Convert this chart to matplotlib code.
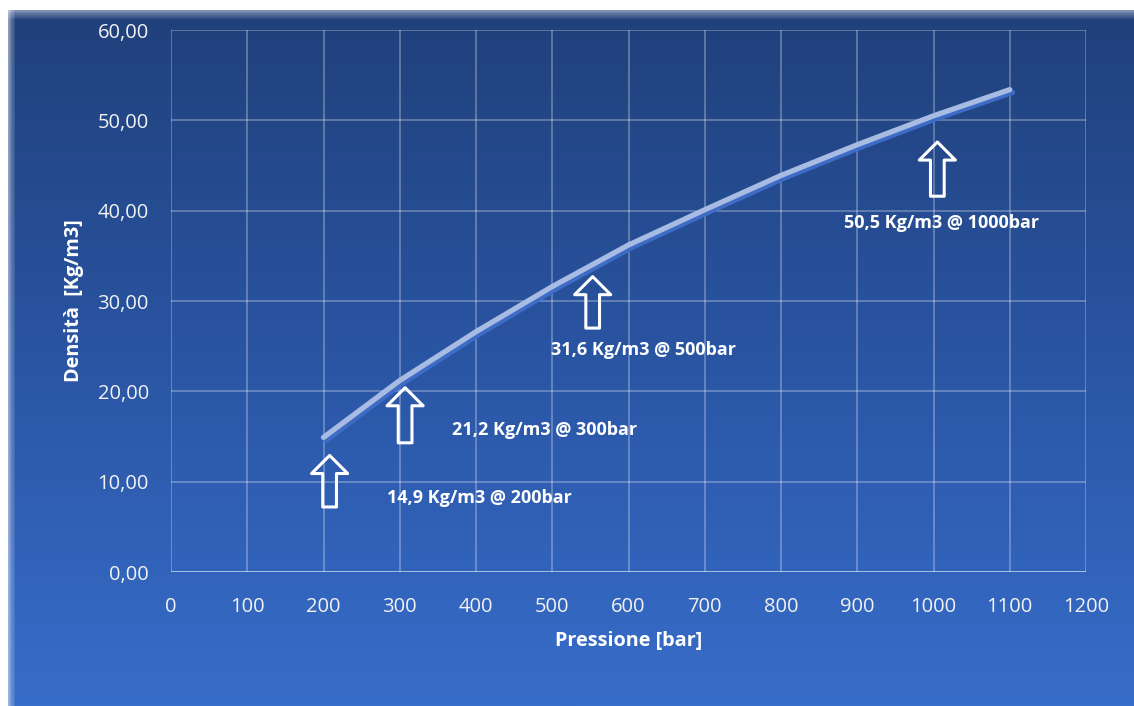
#import used libraries
import numpy as np
from matplotlib import pyplot as plt
from matplotlib import patheffects as pe
from matplotlib.colors import LinearSegmentedColormap

#data
pressione = [200, 300, 400, 500, 600, 700, 800, 900, 1000, 1100]
densita = [14.9, 21.2, 26.6, 31.6, 36.2, 40.1, 43.9, 47.3, 50.5, 53.4]
#annotated points
note_pressione = [200, 300, 500, 1000]
note_densita = [14.9, 21.2, 31.6, 50.5]
x_ticks = list(range(0, 1300, 100))
y_ticks = [0, 10, 20, 30, 40, 50, 60]

#layout of arrows and labels (data coords)
arrow_x = [208, 307, 553, 1005]
arrow_tip = [12.9, 20.4, 32.7, 47.6]
arrow_base = [7.2, 14.3, 27.0, 41.6]
label_xy = [(404, 8.2), (490, 15.7), (620, 24.6), (1010, 38.6)]

plt.rcParams['font.family'] = ['Open Sans', 'DejaVu Sans']

#make picture
fig = plt.figure(figsize=(11.34, 7.06), dpi=100)
fig.patch.set_facecolor('white')

#gradient background panel
bg = fig.add_axes([0.007, 0.0, 0.993, 0.986])
cmap = LinearSegmentedColormap.from_list('bg', ['#20407a', '#2a55a3', '#376dca'])
grad = np.linspace(0, 1, 256).reshape(-1, 1)
bg.imshow(grad, aspect='auto', cmap=cmap, extent=[0, 1, 0, 1], origin='upper')
bg.set_axis_off()
#soft edges
for i in range(6):
    fig.add_artist(plt.Rectangle((0.007, 0.986 - 0.0025 * i), 0.993, 0.0025,
                                 transform=fig.transFigure, color='white', alpha=0.5 - 0.08 * i, lw=0))
    fig.add_artist(plt.Rectangle((0.007 + 0.001 * i, 0), 0.001, 0.986,
                                 transform=fig.transFigure, color='white', alpha=0.5 - 0.08 * i, lw=0))

ax = fig.add_axes([0.1508, 0.1898, 0.8069, 0.7677])
ax.set_facecolor('none')
ax.set_xlim(0, 1200)
ax.set_ylim(0, 60)
ax.set_xticks(x_ticks)
ax.set_yticks(y_ticks)
ax.set_yticklabels([('%.2f' % v).replace('.', ',') for v in y_ticks])
ax.grid(True, color='white', alpha=0.35, lw=1.1)
for s in ax.spines.values():
    s.set_visible(False)
ax.axhline(0, color='white', alpha=0.45, lw=2)
ax.tick_params(length=0, colors='#f2f2f2', labelsize=14.5)
ax.tick_params(axis='x', pad=18)
ax.tick_params(axis='y', pad=16)

#curve with shadow
ax.plot(pressione, densita, color='#a7bbe3', lw=3.8, solid_capstyle='round', solid_joinstyle='round',
        path_effects=[pe.SimpleLineShadow(offset=(2, -2), shadow_color='#3d6bc6', alpha=1), pe.Normal()],
        zorder=3)

#arrows and labels
for i in range(len(note_pressione)):
    ax.annotate('', xy=(arrow_x[i], arrow_tip[i]), xytext=(arrow_x[i], arrow_base[i]),
                arrowprops=dict(arrowstyle='simple,head_width=1.0,head_length=0.5,tail_width=0.38',
                                mutation_scale=26, fc='none', ec='white', lw=2.2,
                                shrinkA=0, shrinkB=0), zorder=4)
    txt = ('%.1f' % note_densita[i]).replace('.', ',') + ' Kg/m3 @ ' + str(note_pressione[i]) + 'bar'
    ax.text(label_xy[i][0], label_xy[i][1], txt, color='white', fontsize=13, fontweight='bold',
            ha='center', va='center', zorder=4)

ax.set_xlabel('Pressione [bar]', color='white', fontsize=14.3, fontweight='bold', labelpad=10)
ax.set_ylabel('Densità  [Kg/m3]', color='white', fontsize=14.3, fontweight='bold', labelpad=10)

plt.savefig('out.png', dpi=100)
plt.close()
